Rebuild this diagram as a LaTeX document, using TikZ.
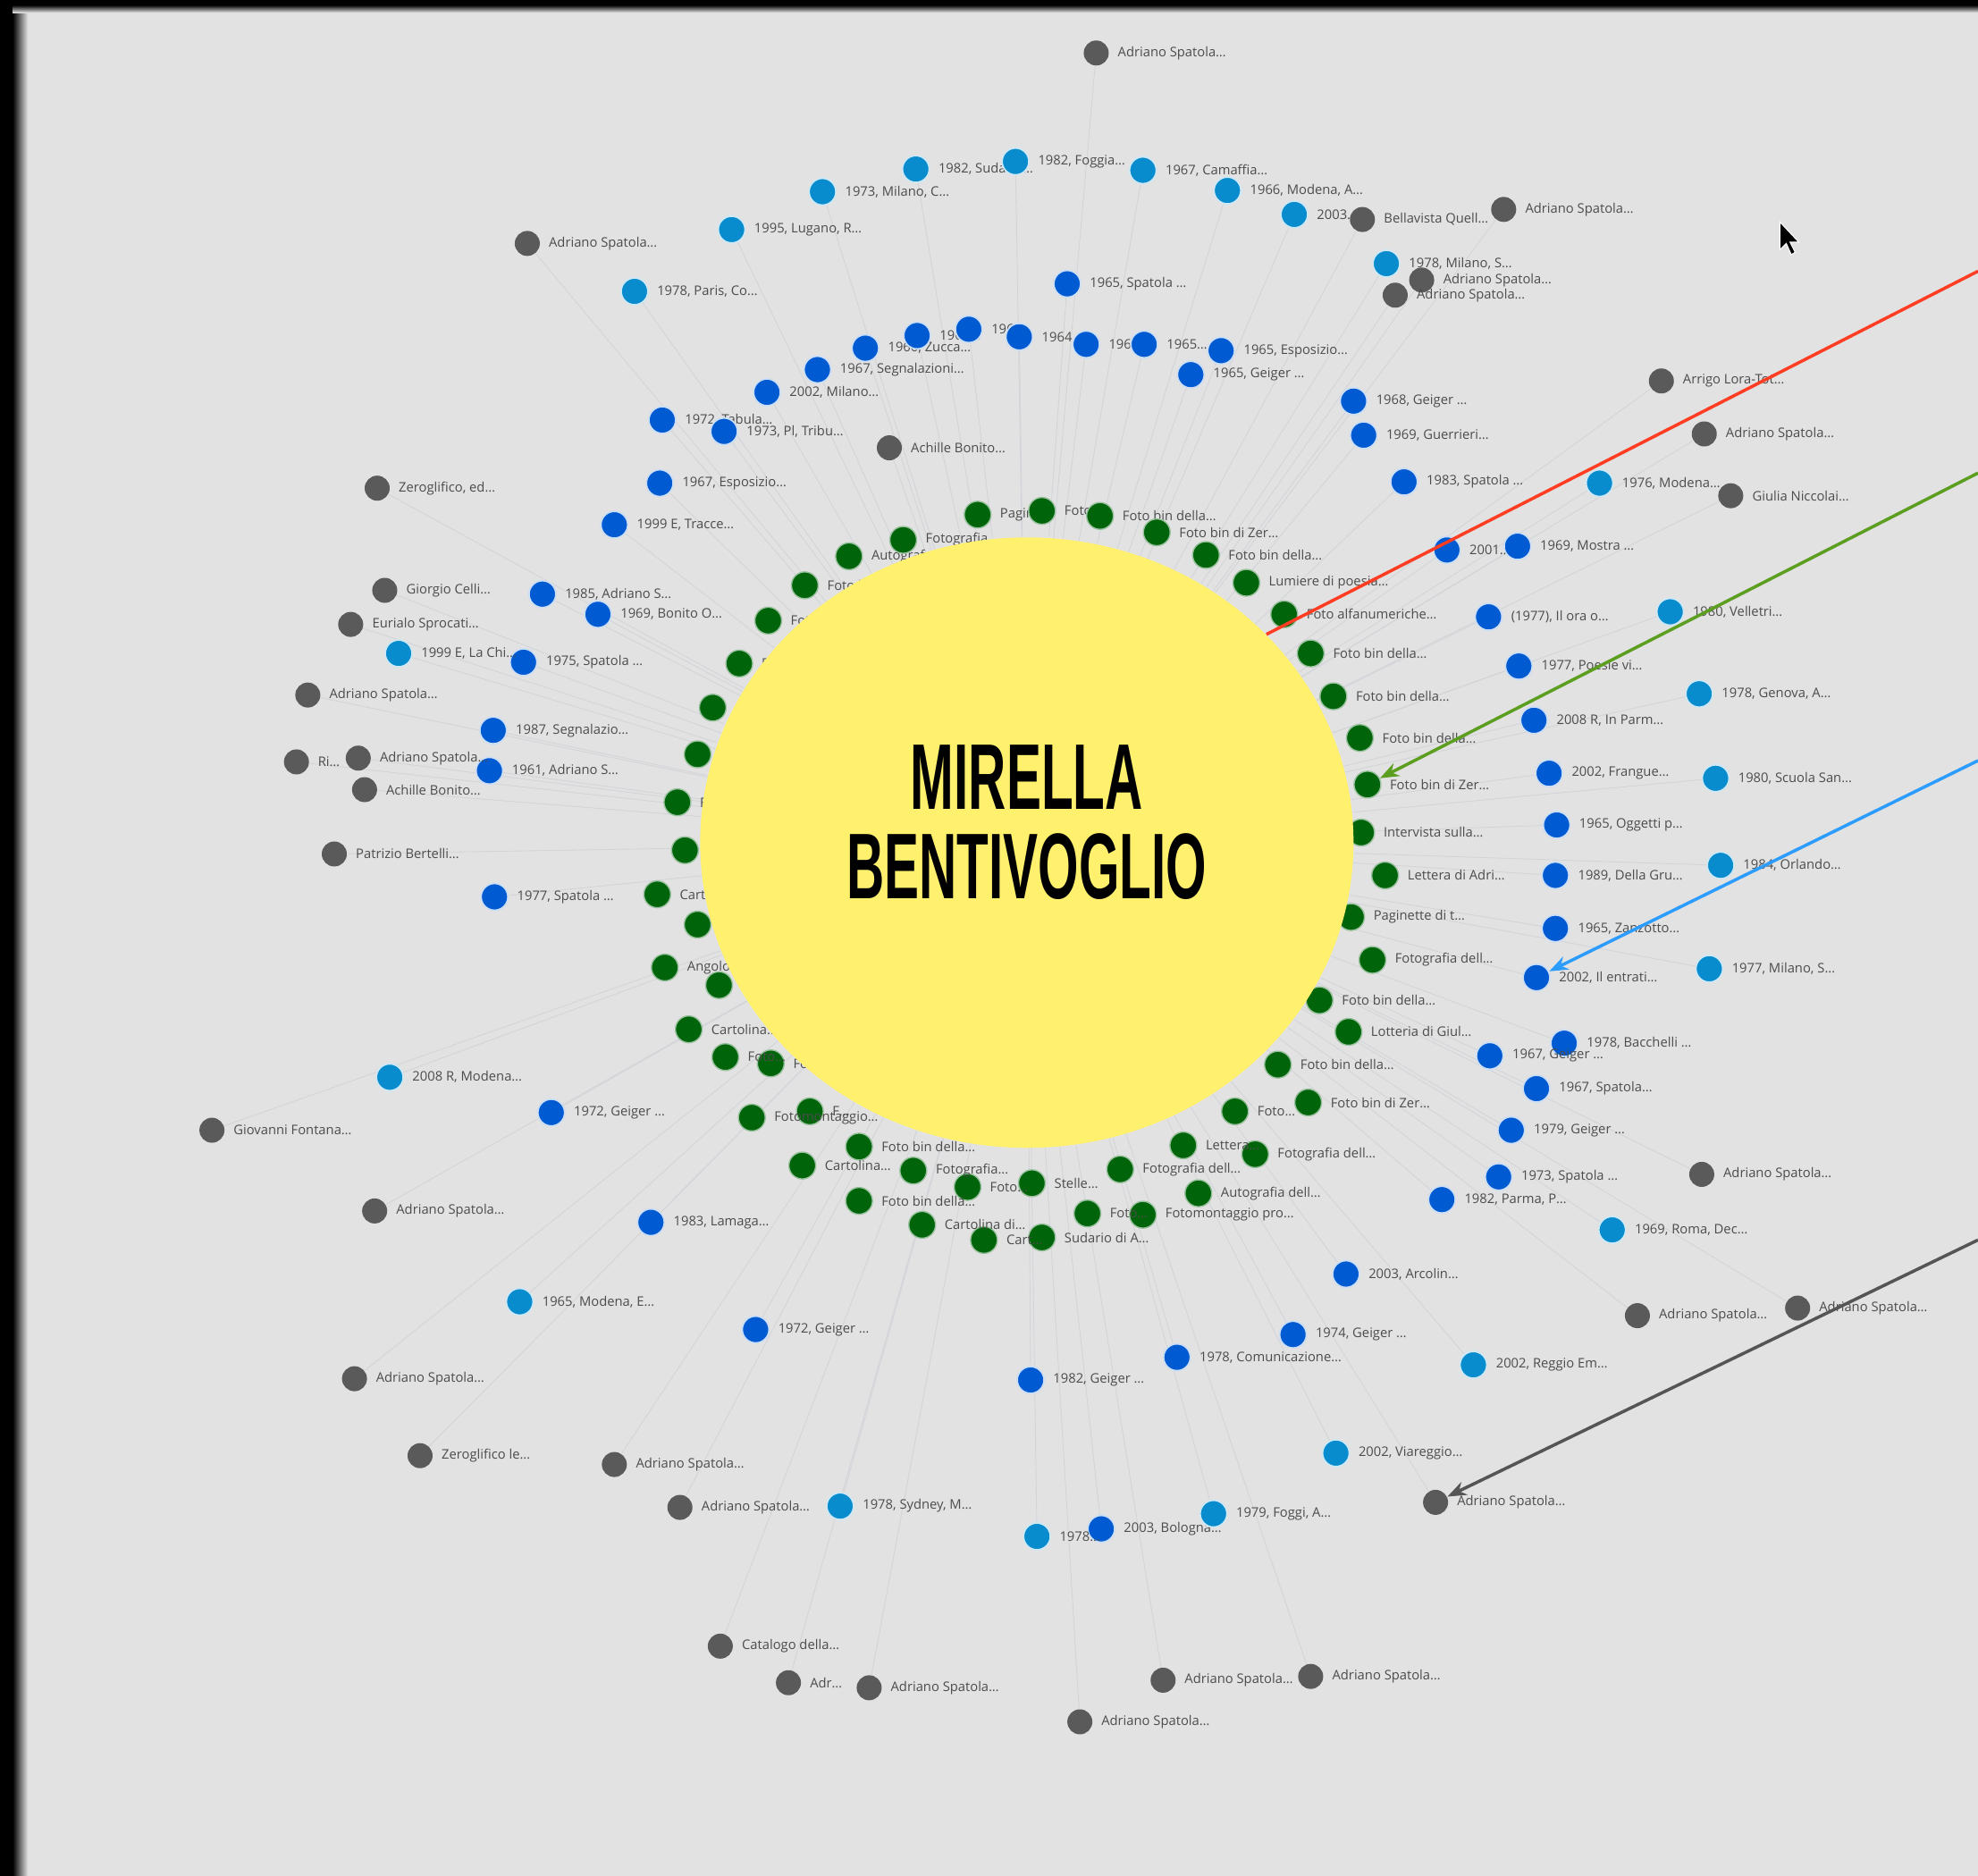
\documentclass[tikz,border=0pt]{standalone}
\usepackage{fontspec}
\usepackage{graphicx}
\usetikzlibrary{shapes.geometric,arrows.meta}
\newfontfamily\lblfont{Open Sans}
\newfontfamily\namefont{Liberation Sans}
\definecolor{bgc}{HTML}{E2E2E2}
\definecolor{gdc}{HTML}{00640A}
\definecolor{bdc}{HTML}{005AD2}
\definecolor{cdc}{HTML}{088CCD}
\definecolor{kdc}{HTML}{5A5A5A}
\definecolor{ylw}{HTML}{FFF06E}
\definecolor{edgec}{HTML}{D2D4D9}
\definecolor{redl}{HTML}{FF3D22}
\definecolor{grnl}{HTML}{5C9E1F}
\definecolor{blul}{HTML}{2C9CFF}
\definecolor{gryl}{HTML}{555555}
\pgfdeclarelayer{back}
\pgfdeclarelayer{edges}
\pgfdeclarelayer{ring}
\pgfsetlayers{back,edges,ring,main}

\begin{document}
\begin{tikzpicture}[x=0.014114cm, y=-0.014114cm,
    dot/.style={circle, inner sep=0pt, minimum size=0.3cm},
    gdot/.style={dot, fill=gdc, draw=gdc!40!white, line width=0.4pt, minimum size=0.3cm},
    bdot/.style={dot, fill=bdc, draw=bdc!20!white, line width=0.5pt},
    cdot/.style={dot, fill=cdc, draw=cdc!20!white, line width=0.5pt},
    kdot/.style={dot, fill=kdc, minimum size=0.28cm},
    lbl/.style={anchor=west, inner sep=0pt, xshift=2.5pt, text=black!70,
      font=\lblfont\fontsize{4.2}{5}\selectfont},
    edge/.style={edgec, line width=0.25pt},
    link/.style={line width=1pt, -{Stealth[length=6pt,width=4.5pt]}}]
    \useasboundingbox (0,0) rectangle (1568,1487);

    \begin{pgfonlayer}{back}
      \fill[bgc] (0,0) rectangle (1568,1487);
      \fill[black] (0,0) rectangle (10,1487);
      \shade[left color=black, right color=bgc] (10,0) rectangle (22,1487);
      \fill[black] (0,0) rectangle (1568,4);
      \shade[top color=black, bottom color=bgc] (10,4) rectangle (1568,10);
    \end{pgfonlayer}

    % the person in the middle
    \node[ellipse, fill=ylw, inner sep=0pt, minimum width=7.31cm, minimum height=6.83cm]
      (bv) at (814,668) {};
    \node[align=center, inner sep=0pt,
      font=\namefont\bfseries\fontsize{29.7}{28.4}\selectfont] (bvname) at (814,652)
      {\scalebox{0.56}[1]{MIRELLA}\\\scalebox{0.56}[1]{BENTIVOGLIO}};

    % works (green ring)
    \begin{pgfonlayer}{ring}
    \foreach \x/\y/\t [count=\i] in {
      775/408/{Pagine\ldots}, 826/405/{Foto\ldots},
      872/409/{Foto bin della\ldots}, 917/422/{Foto bin di Zer\ldots},
      956/440/{Foto bin della\ldots}, 988/462/{Lumiere di poesia\ldots},
      1018/487/{Foto alfanumeriche\ldots}, 1039/518/{Foto bin della\ldots},
      1057/552/{Foto bin della\ldots}, 1078/585/{Foto bin della\ldots},
      1079/660/{Intervista sulla\ldots}, 1098/694/{Lettera di Adri\ldots},
      1071/727/{Paginette di t\ldots}, 1088/761/{Fotografia dell\ldots},
      1046/793/{Foto bin della\ldots}, 1069/818/{Lotteria di Giul\ldots},
      1013/844/{Foto bin della\ldots}, 1037/874/{Foto bin di Zer\ldots},
      979/881/{Foto\ldots}, 995/915/{Fotografia dell\ldots},
      938/908/{Lettera\ldots}, 950/946/{Autografia dell\ldots},
      888/927/{Fotografia dell\ldots}, 906/963/{Fotomontaggio pro\ldots},
      862/962/{Foto\ldots}, 826/981/{Sudario di A\ldots},
      818/938/{Stelle\ldots}, 780/983/{Cart\ldots},
      767/941/{Foto\ldots}, 731/971/{Cartolina di\ldots},
      724/928/{Fotografia\ldots}, 681/952/{Foto bin della\ldots},
      681/909/{Foto bin della\ldots}, 636/924/{Cartolina\ldots},
      642/881/{F\ldots}, 596/886/{Fotomontaggio\ldots},
      611/843/{Foto bin della\ldots}, 575/838/{Foto\ldots},
      546/816/{Cartolina\ldots}, 570/781/{Foto bin della\ldots},
      527/767/{Angolo\ldots}, 553/733/{Foto bin della\ldots},
      521/709/{Cartolina\ldots}, 543/674/{Foto bin della\ldots},
      537/636/{Foto bin della\ldots}, 553/598/{Foto bin della\ldots},
      565/561/{Foto bin della\ldots}, 586/526/{Foto bin della\ldots},
      609/492/{Foto bin della\ldots}, 638/464/{Foto bin della\ldots},
      673/441/{Autografo\ldots}, 716/428/{Fotografia\ldots}}
    {
      \node[gdot] (g\i) at (\x,\y) {};
      \node[lbl] (g\i-t) at (g\i.east) {\t};
    }
    \node[gdot] (gfoto) at (1084,622) {};
    \node[lbl] (gfoto-t) at (gfoto.east) {Foto bin di Zer\ldots};
    \end{pgfonlayer}

    % exhibitions
    \foreach \x/\y/\t [count=\i] in {
      846/225/{1965, Spatola \ldots}, 686/276/{1966, Zucca\ldots},
      727/266/{1966\ldots}, 768/261/{1963\ldots},
      808/267/{1964\ldots}, 861/273/{1964\ldots},
      907/273/{1965\ldots}, 968/278/{1965, Esposizio\ldots},
      944/297/{1965, Geiger \ldots}, 648/293/{1967, Segnalazioni\ldots},
      608/311/{2002, Milano\ldots}, 525/333/{1972, Tabula\ldots},
      574/342/{1973, Pl, Tribu\ldots}, 523/383/{1967, Esposizio\ldots},
      487/416/{1999 E, Tracce\ldots}, 1073/318/{1968, Geiger \ldots},
      1081/345/{1969, Guerrieri\ldots}, 1113/382/{1983, Spatola \ldots},
      1147/436/{2001\ldots}, 1203/433/{1969, Mostra \ldots},
      1180/489/{(1977), Il ora o\ldots}, 1204/528/{1977, Poesie vi\ldots},
      1216/571/{2008 R, In Parm\ldots}, 1228/613/{2002, Frangue\ldots},
      1234/654/{1965, Oggetti p\ldots}, 1233/694/{1989, Della Gru\ldots},
      1233/736/{1965, Zanzotto\ldots}, 1240/827/{1978, Bacchelli \ldots},
      1181/837/{1967, Geiger \ldots}, 1218/863/{1967, Spatola\ldots},
      1198/896/{1979, Geiger \ldots}, 1188/933/{1973, Spatola \ldots},
      1143/951/{1982, Parma, P\ldots}, 1067/1010/{2003, Arcolin\ldots},
      1025/1058/{1974, Geiger \ldots}, 933/1076/{1978, Comunicazione\ldots},
      817/1094/{1982, Geiger \ldots}, 873/1212/{2003, Bologna\ldots},
      599/1054/{1972, Geiger \ldots}, 516/969/{1983, Lamaga\ldots},
      437/882/{1972, Geiger \ldots}, 392/711/{1977, Spatola \ldots},
      388/611/{1961, Adriano S\ldots}, 391/579/{1987, Segnalazio\ldots},
      415/525/{1975, Spatola \ldots}, 474/487/{1969, Bonito O\ldots},
      430/471/{1985, Adriano S\ldots}}
    {
      \node[bdot] (b\i) at (\x,\y) {};
      \node[lbl] (b\i-t) at (b\i.east) {\t};
      \begin{pgfonlayer}{edges}
        \draw[edge] (bv) -- (b\i);
      \end{pgfonlayer}
    }
    \node[bdot] (bentr) at (1218,775) {};
    \node[lbl] (bentr-t) at (bentr.east) {2002, Il entrati\ldots};

    \foreach \x/\y/\t [count=\i] in {
      726/134/{1982, Sudario\ldots}, 805/128/{1982, Foggia\ldots},
      906/135/{1967, Camaffia\ldots}, 973/151/{1966, Modena, A\ldots},
      1026/170/{2003\ldots}, 652/152/{1973, Milano, C\ldots},
      580/182/{1995, Lugano, R\ldots}, 503/231/{1978, Paris, Co\ldots},
      1099/209/{1978, Milano, S\ldots}, 1268/383/{1976, Modena\ldots},
      1324/485/{1980, Velletri\ldots}, 1347/550/{1978, Genova, A\ldots},
      1360/617/{1980, Scuola San\ldots}, 1364/686/{1984, Orlando\ldots},
      1355/768/{1977, Milano, S\ldots}, 1278/975/{1969, Roma, Dec\ldots},
      1168/1082/{2002, Reggio Em\ldots}, 1059/1152/{2002, Viareggio\ldots},
      962/1200/{1979, Foggi, A\ldots}, 822/1218/{1978\ldots},
      666/1194/{1978, Sydney, M\ldots}, 412/1032/{1965, Modena, E\ldots},
      309/854/{2008 R, Modena\ldots}, 316/518/{1999 E, La Chi\ldots}}
    {
      \node[cdot] (c\i) at (\x,\y) {};
      \node[lbl] (c\i-t) at (c\i.east) {\t};
      \begin{pgfonlayer}{edges}
        \draw[edge] (bv) -- (c\i);
      \end{pgfonlayer}
    }

    % people
    \foreach \x/\y/\t [count=\i] in {
      869/42/{Adriano Spatola\ldots}, 418/193/{Adriano Spatola\ldots},
      1080/174/{Bellavista Quell\ldots}, 1192/166/{Adriano Spatola\ldots},
      1127/222/{Adriano Spatola\ldots}, 1106/234/{Adriano Spatola\ldots},
      705/355/{Achille Bonito\ldots}, 1317/302/{Arrigo Lora-Tot\ldots},
      1351/344/{Adriano Spatola\ldots}, 1372/393/{Giulia Niccolai\ldots},
      299/387/{Zeroglifico, ed\ldots}, 305/468/{Giorgio Celli\ldots},
      278/495/{Eurialo Sprocati\ldots}, 244/551/{Adriano Spatola\ldots},
      235/604/{Ri\ldots}, 284/601/{Adriano Spatola\ldots},
      289/626/{Achille Bonito\ldots}, 265/677/{Patrizio Bertelli\ldots},
      168/896/{Giovanni Fontana\ldots}, 297/960/{Adriano Spatola\ldots},
      281/1093/{Adriano Spatola\ldots}, 333/1154/{Zeroglifico le\ldots},
      487/1161/{Adriano Spatola\ldots}, 539/1195/{Adriano Spatola\ldots},
      571/1305/{Catalogo della\ldots}, 625/1334/{Adr\ldots},
      689/1338/{Adriano Spatola\ldots}, 856/1365/{Adriano Spatola\ldots},
      922/1332/{Adriano Spatola\ldots}, 1039/1329/{Adriano Spatola\ldots},
      1298/1043/{Adriano Spatola\ldots}, 1425/1037/{Adriano Spatola\ldots},
      1349/931/{Adriano Spatola\ldots}}
    {
      \node[kdot] (k\i) at (\x,\y) {};
      \node[lbl] (k\i-t) at (k\i.east) {\t};
      \begin{pgfonlayer}{edges}
        \draw[edge] (bv) -- (k\i);
      \end{pgfonlayer}
    }
    \node[kdot] (kspat) at (1138,1191) {};
    \node[lbl] (kspat-t) at (kspat.east) {Adriano Spatola\ldots};

    \begin{pgfonlayer}{edges}
      \draw[edge] (bv) -- (bentr);
      \draw[edge] (bv) -- (kspat);
    \end{pgfonlayer}

    % pointers coming in from the right
    \coordinate (redin) at (1568,215);
    \coordinate (grnin) at (1568,375);
    \coordinate (bluin) at (1568,603);
    \coordinate (gryin) at (1568,983);
    \draw[redl, line width=1pt] (redin) -- (bv.41);
    \draw[link, grnl] (grnin) -- (gfoto);
    \draw[link, blul] (bluin) -- (bentr);
    \draw[link, gryl] (gryin) -- (kspat);

    % mouse pointer
    \fill[black, draw=white, line width=0.3pt] (1411,176) -- (1411,198) -- (1416,193)
      -- (1420,202) -- (1423,200) -- (1419,192) -- (1426,192) -- cycle;
\end{tikzpicture}
\end{document}
